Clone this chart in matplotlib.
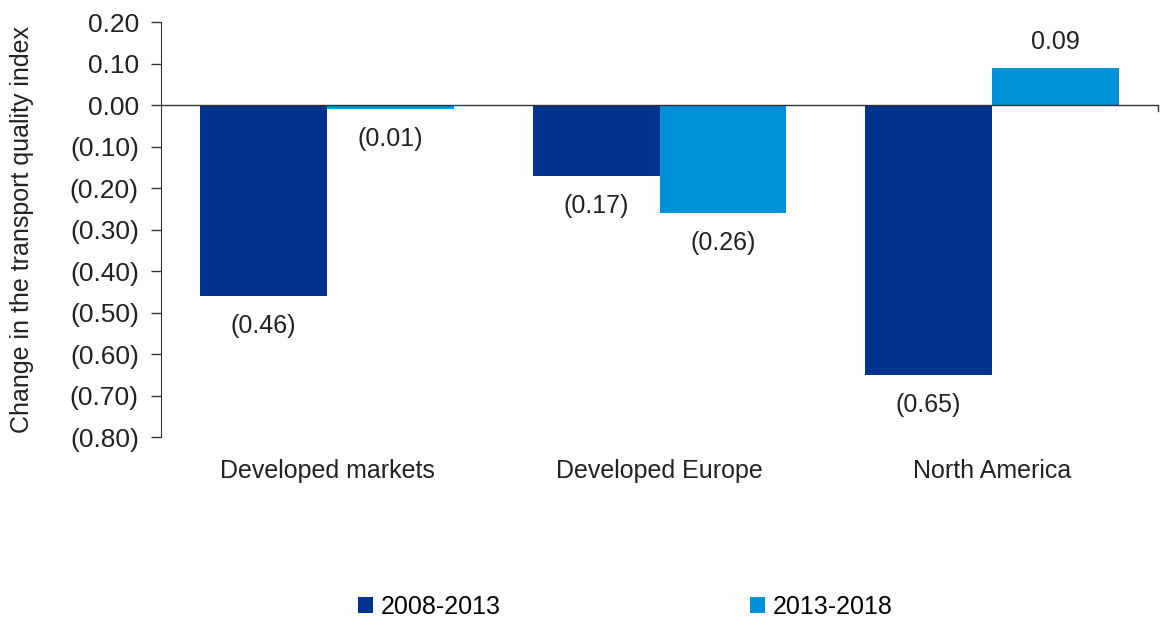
import numpy as np
import matplotlib.pyplot as plt

categories = ["Developed markets", "Developed Europe", "North America"]
series_names = ["2008-2013", "2013-2018"]
vals_0813 = [-0.46, -0.17, -0.65]
vals_1318 = [-0.01, -0.26, 0.09]
yticks = [0.20, 0.10, 0.00, -0.10, -0.20, -0.30, -0.40, -0.50, -0.60, -0.70, -0.80]

dark = "#00338D"
light = "#0091DA"

plt.rcParams["font.family"] = ["Liberation Sans", "DejaVu Sans"]
plt.rcParams["font.size"] = 18


def fmt(v):
    if round(v, 2) < 0:
        return f"({abs(v):.2f})"
    return f"{v:.2f}"


fig = plt.figure(figsize=(11.6, 6.17), dpi=100)
ax = fig.add_axes([0.1388, 0.2917, 0.8595, 0.6726])

x = np.arange(len(categories))
w = 0.382
b1 = ax.bar(x - w / 2, vals_0813, w, color=dark, label=series_names[0])
b2 = ax.bar(x + w / 2, vals_1318, w, color=light, label=series_names[1])

for bars, vals in [(b1, vals_0813), (b2, vals_1318)]:
    for r, v in zip(bars, vals):
        cx = r.get_x() + r.get_width() / 2
        if v < 0:
            ax.annotate(fmt(v), (cx, v), xytext=(0, -13), textcoords="offset points",
                        ha="center", va="top", color="#222222")
        else:
            ax.annotate(fmt(v), (cx, v), xytext=(0, 10), textcoords="offset points",
                        ha="center", va="bottom", color="#222222")

ax.set_xlim(-0.5, 2.5)
ax.set_ylim(-0.80, 0.20)
ax.set_yticks(yticks)
ax.set_yticklabels([fmt(t) for t in yticks], color="#222222", fontsize=19)
ax.tick_params(axis="y", length=7, width=1, color="#333333", pad=9)

ax.set_xticks(x)
ax.set_xticklabels(categories, color="#222222")
ax.tick_params(axis="x", length=0, pad=16)

for s in ["top", "right", "bottom"]:
    ax.spines[s].set_visible(False)
ax.spines["left"].set_color("#333333")
ax.axhline(0, color="#333333", lw=1, zorder=3)
ax.plot([2.5, 2.5], [0, -0.015], color="#333333", lw=1, clip_on=False)

ax.set_ylabel("Change in the transport quality index", color="#222222")
ax.yaxis.set_label_coords(-0.127, 0.5)

fig.legend(loc="center", bbox_to_anchor=(0.539, 0.016), ncol=2, frameon=False,
           handlelength=0.6, handleheight=0.6, handletextpad=0.3,
           columnspacing=10.0, fontsize=18)

fig.savefig("out.png", dpi=100)
